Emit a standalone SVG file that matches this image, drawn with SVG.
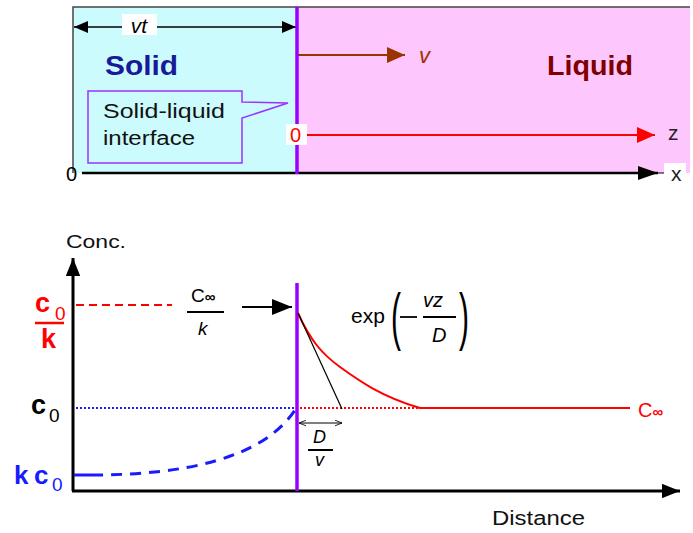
<svg xmlns="http://www.w3.org/2000/svg" width="693" height="533" viewBox="0 0 693 533">
<style>
text{font-family:"Liberation Sans",Arial,sans-serif}
.b{font-weight:bold}
.i{font-style:italic}
.ax{stroke:#000;stroke-width:3;fill:none}
.purp{stroke:#9900ff;stroke-width:3.5}
</style>
<defs>
<marker id="ah" viewBox="0 0 10 10" refX="10" refY="5" markerWidth="6" markerHeight="4.8" markerUnits="strokeWidth" orient="auto" preserveAspectRatio="none"><path d="M0,0 L10,5 L0,10 z" fill="#000"/></marker>
<marker id="ahx" viewBox="0 0 10 10" refX="10" refY="5" markerWidth="8" markerHeight="5.6" markerUnits="strokeWidth" orient="auto" preserveAspectRatio="none"><path d="M0,0 L10,5 L0,10 z" fill="#000"/></marker>
<marker id="ahr" viewBox="0 0 10 10" refX="10" refY="5" markerWidth="9" markerHeight="8" markerUnits="strokeWidth" orient="auto" preserveAspectRatio="none"><path d="M0,0 L10,5 L0,10 z" fill="#ff0000"/></marker>
<marker id="ahbr" viewBox="0 0 10 10" refX="10" refY="5" markerWidth="9" markerHeight="8" markerUnits="strokeWidth" orient="auto" preserveAspectRatio="none"><path d="M0,0 L10,5 L0,10 z" fill="#993300"/></marker>
<marker id="ahk" viewBox="0 0 10 10" refX="10" refY="5" markerWidth="10" markerHeight="8" markerUnits="strokeWidth" orient="auto" preserveAspectRatio="none"><path d="M0,0 L10,5 L0,10 z" fill="#000"/></marker>
<marker id="ahks" viewBox="0 0 10 10" refX="10" refY="5" markerWidth="9.5" markerHeight="8" markerUnits="strokeWidth" orient="auto-start-reverse" preserveAspectRatio="none"><path d="M0,0 L10,5 L0,10 z" fill="#000"/></marker>
<marker id="open" viewBox="0 0 10 10" refX="10" refY="5" markerWidth="7" markerHeight="7" markerUnits="userSpaceOnUse" orient="auto-start-reverse"><path d="M0,1 L10,5 L0,9" fill="none" stroke="#000" stroke-width="1.2"/></marker>
</defs>

<!-- Top panel -->
<g id="solid-region">
<rect x="73" y="7" width="224" height="166" fill="#ccfbfd"/>
</g>
<g id="liquid-region">
<rect x="297" y="7" width="393" height="166" fill="#fdc6fc"/>
</g>
<path d="M73,173 V7 H690" fill="none" stroke="#444" stroke-width="1.5"/>

<g id="labels-top">
<text x="105" y="75" font-size="28" class="b" fill="#1a1a99" textLength="73" lengthAdjust="spacingAndGlyphs">Solid</text>
<text x="547" y="75" font-size="28" class="b" fill="#800000" textLength="86" lengthAdjust="spacingAndGlyphs">Liquid</text>
</g>

<g id="callout">
<path d="M88,91 H242 V102 L288,103 L242,118 V163 H88 Z" fill="#ccfbfd" stroke="#9933ff" stroke-width="1.5"/>
<text x="103" y="118" font-size="20" fill="#111" textLength="122" lengthAdjust="spacingAndGlyphs">Solid-liquid</text>
<text x="103" y="145" font-size="20" fill="#111" textLength="92" lengthAdjust="spacingAndGlyphs">interface</text>
</g>

<g id="connectors-top">
<line x1="74" y1="27" x2="296" y2="27" stroke="#000" stroke-width="1.5" marker-start="url(#ahks)" marker-end="url(#ahks)"/>
<rect x="122" y="14" width="35" height="21" fill="#fff"/>
<text x="139" y="33" font-size="21" class="i" text-anchor="middle" fill="#000">vt</text>
<line x1="298" y1="55" x2="405" y2="55" stroke="#993300" stroke-width="2" marker-end="url(#ahbr)"/>
<text x="419" y="63" font-size="22" class="i" fill="#993300">v</text>
<line x1="307" y1="135" x2="655" y2="135" stroke="#ff0000" stroke-width="2" marker-end="url(#ahr)"/>
<text x="668" y="140" font-size="21" fill="#222">z</text>
<line x1="82" y1="173" x2="658" y2="173" stroke="#000" stroke-width="2.5" marker-end="url(#ahx)"/>
<line x1="656" y1="173" x2="665" y2="173" stroke="#000" stroke-width="1"/>
<rect x="664" y="163" width="22" height="20" fill="#fff"/>
<text x="671" y="181" font-size="21" fill="#222">x</text>
<text x="66" y="181" font-size="20" fill="#000">0</text>
</g>
<g id="interface-top">
<line x1="297" y1="7" x2="297" y2="174" class="purp"/>
<rect x="286" y="124" width="21" height="21" fill="#fff"/>
<text x="290" y="142" font-size="20" fill="#ff0000">0</text>
</g>

<!-- Bottom chart -->
<g id="axes">
<line x1="73" y1="491" x2="73" y2="258" class="ax" marker-end="url(#ah)"/>
<line x1="72" y1="491" x2="680" y2="491" class="ax" marker-end="url(#ah)"/>
<text x="66" y="248" font-size="19" fill="#111" textLength="60" lengthAdjust="spacingAndGlyphs">Conc.</text>
<text x="492" y="525" font-size="20" fill="#111" textLength="93" lengthAdjust="spacingAndGlyphs">Distance</text>
</g>

<g id="interface-bottom">
<line x1="297" y1="283" x2="297" y2="491" class="purp"/>
</g>

<g id="label-c0k">
<text x="35" y="312" font-size="27" class="b" fill="#ff0000">c</text>
<text x="55" y="320" font-size="19" fill="#ff0000">0</text>
<line x1="35" y1="323" x2="64" y2="323" stroke="#ff0000" stroke-width="2.5"/>
<text x="41" y="348" font-size="27" class="b" fill="#ff0000">k</text>
</g>
<g id="label-c0">
<text x="31" y="414" font-size="27" class="b" fill="#000">c</text>
<text x="49" y="422" font-size="19" fill="#000">0</text>
</g>
<g id="label-kc0">
<text x="14" y="484" font-size="26" class="b" fill="#1a1aff">k</text>
<text x="34" y="484" font-size="26" class="b" fill="#1a1aff">c</text>
<text x="52" y="491" font-size="19" fill="#1a1aff">0</text>
</g>

<g id="label-cinf-k">
<text x="191" y="302" font-size="19" fill="#000">C<tspan font-size="15" font-weight="bold">∞</tspan></text>
<line x1="187" y1="312" x2="224" y2="312" stroke="#000" stroke-width="2"/>
<text x="198" y="335" font-size="19" class="i" fill="#000">k</text>
</g>

<g id="label-exp">
<text x="351" y="323" font-size="21" fill="#000">exp</text>
<text transform="translate(391,338) scale(0.5,1.05)" font-size="60" fill="#000">(</text>
<line x1="400" y1="317" x2="417" y2="317" stroke="#000" stroke-width="1.8"/>
<text x="423" y="307" font-size="20" class="i" fill="#000">vz</text>
<line x1="423" y1="317" x2="456" y2="317" stroke="#000" stroke-width="1.8"/>
<text x="432" y="342" font-size="20" class="i" fill="#000">D</text>
<text transform="translate(459,338) scale(0.5,1.05)" font-size="60" fill="#000">)</text>
</g>

<g id="label-cinf">
<text x="638" y="417" font-size="20" fill="#ff0000">C<tspan font-size="15" font-weight="bold">∞</tspan></text>
</g>

<g id="label-dv">
<text x="313" y="443" font-size="18" class="i" fill="#000">D</text>
<line x1="308" y1="450" x2="333" y2="450" stroke="#000" stroke-width="2"/>
<text x="315" y="466" font-size="18" class="i" fill="#000">v</text>
</g>

<g id="connectors">
<line x1="76" y1="305" x2="172" y2="305" stroke="#ff0000" stroke-width="2" stroke-dasharray="8,5"/>
<line x1="242" y1="307" x2="292" y2="307" stroke="#000" stroke-width="2" marker-end="url(#ahk)"/>
<line x1="76" y1="408" x2="296" y2="408" stroke="#1a1aff" stroke-width="2" stroke-dasharray="2,2"/>
<line x1="300" y1="408" x2="420" y2="408" stroke="#ff0000" stroke-width="2" stroke-dasharray="2,2"/>
<path d="M74,475 H92" stroke="#1a1aff" stroke-width="3" fill="none"/>
<path d="M92,475 C180,475 262,460 295,410" stroke="#1a1aff" stroke-width="3" fill="none" stroke-dasharray="11,8"/>
<path d="M298,313 C310,340 322,354 340,367 S380,396 420,408 H630" stroke="#ff0000" stroke-width="2" fill="none" stroke-linejoin="round"/>
<line x1="298" y1="313" x2="342" y2="409" stroke="#000" stroke-width="1.2"/>
<line x1="299" y1="423" x2="342" y2="423" stroke="#000" stroke-width="1.2" marker-start="url(#open)" marker-end="url(#open)"/>
</g>
</svg>
